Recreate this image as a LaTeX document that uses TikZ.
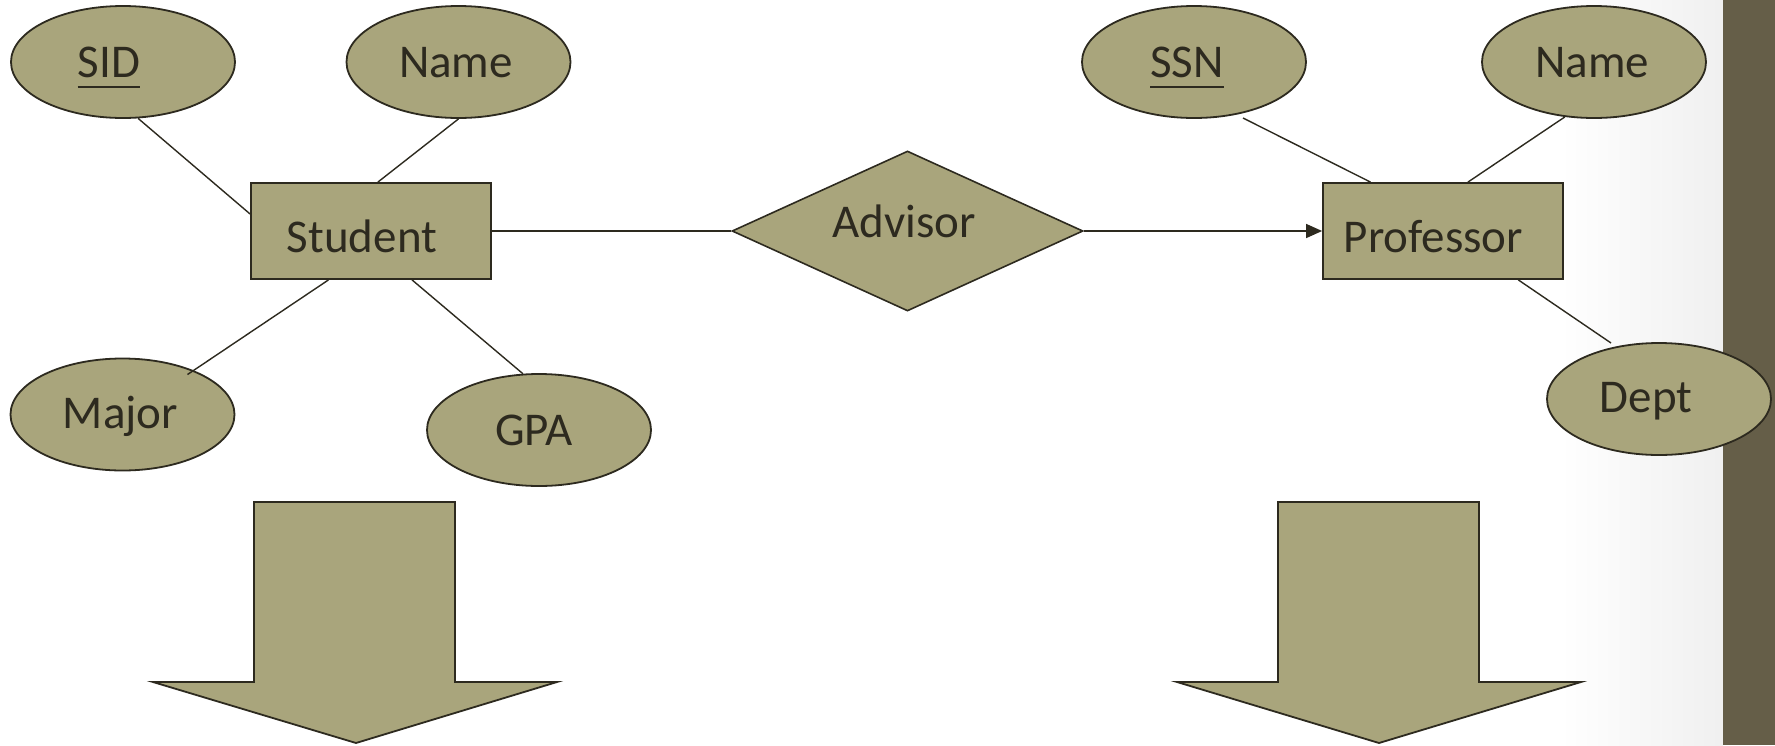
\documentclass[tikz,border=0pt]{standalone}
\usepackage{fontspec}
\setmainfont{Carlito}
\usetikzlibrary{shapes.geometric,calc,arrows.meta}

\definecolor{khaki}{HTML}{A9A57C}
\definecolor{ink}{HTML}{2D2A1F}
\definecolor{sidebar}{HTML}{655E48}

\tikzset{
  shapeline/.style={draw=ink, line width=1.8pt, fill=khaki},
  attr/.style={shapeline, ellipse, minimum width=224pt, minimum height=112pt, inner sep=0pt},
  entity/.style={shapeline, rectangle, minimum width=240pt, minimum height=96pt, inner sep=0pt},
  relation/.style={shapeline, diamond, line width=1.6pt, minimum width=351pt, minimum height=160pt, inner sep=0pt},
  lbl/.style={anchor=base, inner sep=0pt, text=ink, font=\fontsize{47}{56}\selectfont},
  link/.style={draw=ink, line width=1.4pt},
  bigarrow/.style={draw=ink, line width=1.8pt, fill=khaki, line join=miter},
}

\begin{document}
\begin{tikzpicture}[x=1pt, y=-1pt]
  % page and right-hand band
  \useasboundingbox (0,0) rectangle (1775,745);
  \fill[white] (0,0) rectangle (1775,745);
  \shade[left color=white, right color=black!6] (1560,0) rectangle (1723,745);
  \fill[sidebar] (1723,0) rectangle (1775,745);

  % entities and relationship
  \node[entity] (student) at (371,231) {};
  \node[entity] (prof) at (1443,231) {};
  \node[relation] (advisor) at (907.5,231) {};

  % attributes
  \node[attr] (sid) at (123,62) {};
  \node[attr] (sname) at (458.5,62) {};
  \node[attr] (major) at (122.5,414.5) {};
  \node[attr] (gpa) at (539,430) {};
  \node[attr] (ssn) at (1194,62) {};
  \node[attr] (pname) at (1594,62) {};
  \node[attr] (dept) at (1659,399) {};

  % labels
  \node[lbl] (studentlbl) at (362,252) {Student};
  \node[lbl] (proflbl) at (1433.5,252) {Professor};
  \node[lbl] (advisorlbl) at (904,237) {Advisor};
  \node[lbl] (sidlbl) at (109,77) {SID};
  \node[lbl] (snamelbl) at (456,77) {Name};
  \node[lbl] (majorlbl) at (120.5,428) {Major};
  \node[lbl] (gpalbl) at (534,445) {GPA};
  \node[lbl] (ssnlbl) at (1187,77) {SSN};
  \node[lbl] (pnamelbl) at (1592,77) {Name};
  \node[lbl] (deptlbl) at (1646,412) {Dept};

  % key attributes are underlined
  \draw[ink, line width=2.4pt] ($(sidlbl.base west)+(0,10)$) -- ($(sidlbl.base east)+(0,10)$);
  \draw[ink, line width=2.4pt] ($(ssnlbl.base west)+(0,10)$) -- ($(ssnlbl.base east)+(0,10)$);

  % attribute links
  \draw[link] (sid.-75) -- (student.172);
  \draw[link] (sname.-90) -- (student.82);
  \draw[link] (student.-131) -- ($(major.center)+(65,-40)$);
  \draw[link] (student.-50) -- (gpa.106);
  \draw[link] ($(ssn.center)+(49,56)$) -- (prof.146);
  \draw[link] (pname.-118.5) -- (prof.63);
  \draw[link] (prof.-33.7) -- ($(dept.center)+(-48,-56)$);

  % relationship links
  \draw[link] (student.east) -- (advisor.west);
  \draw[link, -{Triangle[length=16pt, width=14pt]}] (advisor.east) -- (prof.west);

  % block arrows
  \filldraw[bigarrow] (254,502) -- (455,502) -- (455,682) -- (557,682) -- (356,743)
    -- (153,682) -- (254,682) -- cycle;
  \filldraw[bigarrow] (1278,502) -- (1479,502) -- (1479,682) -- (1581,682) -- (1379,743)
    -- (1177,682) -- (1278,682) -- cycle;
\end{tikzpicture}
\end{document}
